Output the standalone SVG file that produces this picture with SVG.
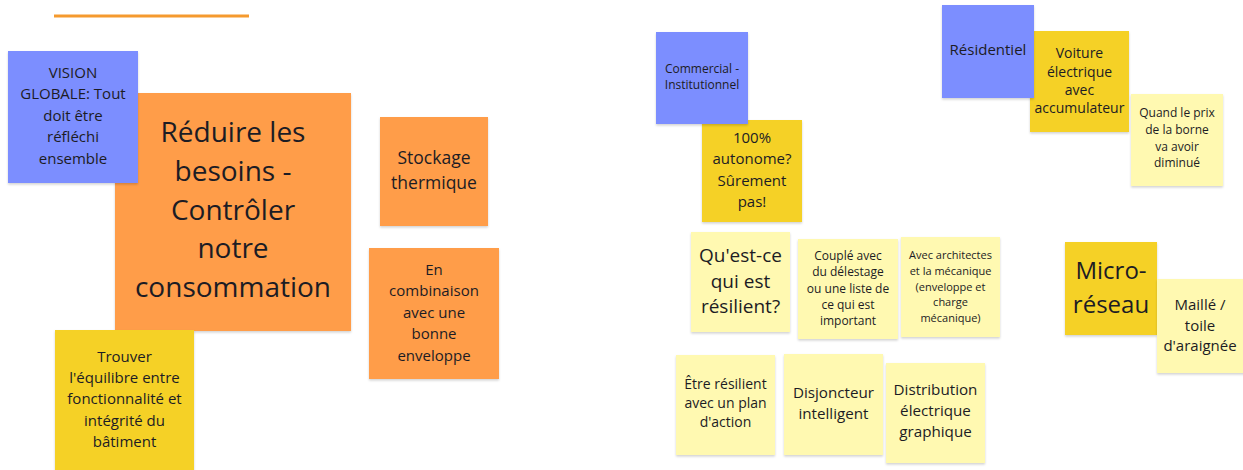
<svg xmlns="http://www.w3.org/2000/svg" width="1243" height="470" viewBox="0 0 1243 470">
<defs>
<filter id="sh" x="-10%" y="-10%" width="130%" height="130%">
<feDropShadow dx="0" dy="1.5" stdDeviation="1.2" flood-color="#000" flood-opacity="0.18"/>
</filter>
</defs>
<style>
.n{filter:url(#sh)}
.blue{fill:#7B8EFF}
.orange{fill:#FF9D48}
.yellow{fill:#F5D128}
.ly{fill:#FFF9B1}
text{font-family:"Open Sans","Noto Sans","DejaVu Sans",sans-serif;fill:#1c1c24;text-anchor:middle}
</style>
<rect width="1243" height="470" fill="#ffffff"/>
<g id="connectors">
<line x1="54" y1="16" x2="249" y2="16" stroke="#F59A2E" stroke-width="3"/>
</g>
<g id="reduire">
<rect class="n orange" x="115" y="93" width="236" height="238"/>
<text font-size="28"><tspan x="233" y="142">Réduire les</tspan><tspan x="233" y="181">besoins -</tspan><tspan x="233" y="220">Contrôler</tspan><tspan x="233" y="258">notre</tspan><tspan x="233" y="297">consommation</tspan></text>
</g>
<g id="vision">
<rect class="n blue" x="8" y="51" width="130" height="132"/>
<text font-size="15"><tspan x="73" y="78">VISION</tspan><tspan x="73" y="99">GLOBALE: Tout</tspan><tspan x="73" y="121">doit être</tspan><tspan x="73" y="142">réfléchi</tspan><tspan x="73" y="164">ensemble</tspan></text>
</g>
<g id="trouver">
<rect class="n yellow" x="55" y="330" width="139" height="145"/>
<text font-size="15"><tspan x="124.5" y="362">Trouver</tspan><tspan x="124.5" y="383">l'équilibre entre</tspan><tspan x="124.5" y="404">fonctionnalité et</tspan><tspan x="124.5" y="426">intégrité du</tspan><tspan x="124.5" y="447">bâtiment</tspan></text>
</g>
<g id="stockage">
<rect class="n orange" x="380" y="117" width="108" height="109"/>
<text font-size="17.5"><tspan x="434" y="164">Stockage</tspan><tspan x="434" y="189">thermique</tspan></text>
</g>
<g id="combinaison">
<rect class="n orange" x="369" y="248" width="130" height="131"/>
<text font-size="15"><tspan x="434" y="275">En</tspan><tspan x="434" y="296">combinaison</tspan><tspan x="434" y="318">avec une</tspan><tspan x="434" y="339">bonne</tspan><tspan x="434" y="361">enveloppe</tspan></text>
</g>
<g id="autonome">
<rect class="n yellow" x="702" y="120" width="100" height="102"/>
<text font-size="15"><tspan x="752" y="143">100%</tspan><tspan x="752" y="164">autonome?</tspan><tspan x="752" y="186">Sûrement</tspan><tspan x="752" y="207">pas!</tspan></text>
</g>
<g id="commercial">
<rect class="n blue" x="656" y="32" width="92" height="92"/>
<text font-size="12"><tspan x="702" y="73">Commercial -</tspan><tspan x="702" y="89">Institutionnel</tspan></text>
</g>
<g id="resilient">
<rect class="n ly" x="691" y="232" width="99" height="100"/>
<text font-size="19"><tspan x="740.5" y="262">Qu'est-ce</tspan><tspan x="740.5" y="288">qui est</tspan><tspan x="740.5" y="313">résilient?</tspan></text>
</g>
<g id="couple">
<rect class="n ly" x="798" y="239" width="100" height="100"/>
<text font-size="12"><tspan x="848" y="260">Couplé avec</tspan><tspan x="848" y="276">du délestage</tspan><tspan x="848" y="293">ou une liste de</tspan><tspan x="848" y="309">ce qui est</tspan><tspan x="848" y="325">important</tspan></text>
</g>
<g id="architectes">
<rect class="n ly" x="901" y="237" width="99" height="100"/>
<text font-size="11"><tspan x="950.5" y="259">Avec architectes</tspan><tspan x="950.5" y="275">et la mécanique</tspan><tspan x="950.5" y="291">(enveloppe et</tspan><tspan x="950.5" y="306">charge</tspan><tspan x="950.5" y="322">mécanique)</tspan></text>
</g>
<g id="plan">
<rect class="n ly" x="676" y="355" width="99" height="100"/>
<text font-size="14"><tspan x="725.5" y="389">Être résilient</tspan><tspan x="725.5" y="408">avec un plan</tspan><tspan x="725.5" y="427">d'action</tspan></text>
</g>
<g id="disjoncteur">
<rect class="n ly" x="784" y="354" width="99" height="101"/>
<text font-size="15.2"><tspan x="833.5" y="398">Disjoncteur</tspan><tspan x="833.5" y="419">intelligent</tspan></text>
</g>
<g id="distribution">
<rect class="n ly" x="886" y="363" width="99" height="100"/>
<text font-size="15.2"><tspan x="935.5" y="395">Distribution</tspan><tspan x="935.5" y="416">électrique</tspan><tspan x="935.5" y="437">graphique</tspan></text>
</g>
<g id="voiture">
<rect class="n yellow" x="1030" y="31" width="99" height="101"/>
<text font-size="14"><tspan x="1079.5" y="58">Voiture</tspan><tspan x="1079.5" y="77">électrique</tspan><tspan x="1079.5" y="95">avec</tspan><tspan x="1079.5" y="113">accumulateur</tspan></text>
</g>
<g id="residentiel">
<rect class="n blue" x="942" y="5" width="92" height="93"/>
<text font-size="15"><tspan x="988" y="55">Résidentiel</tspan></text>
</g>
<g id="prix">
<rect class="n ly" x="1131" y="94" width="92" height="92"/>
<text font-size="12"><tspan x="1177" y="117">Quand le prix</tspan><tspan x="1177" y="134">de la borne</tspan><tspan x="1177" y="151">va avoir</tspan><tspan x="1177" y="167">diminué</tspan></text>
</g>
<g id="microreseau">
<rect class="n yellow" x="1065" y="242" width="92" height="93"/>
<text font-size="24"><tspan x="1111" y="279">Micro-</tspan><tspan x="1111" y="313">réseau</tspan></text>
</g>
<g id="maille">
<rect class="n ly" x="1157" y="279" width="90" height="94"/>
<text font-size="15"><tspan x="1200" y="310">Maillé /</tspan><tspan x="1200" y="331">toile</tspan><tspan x="1200" y="351">d'araignée</tspan></text>
</g>
</svg>
